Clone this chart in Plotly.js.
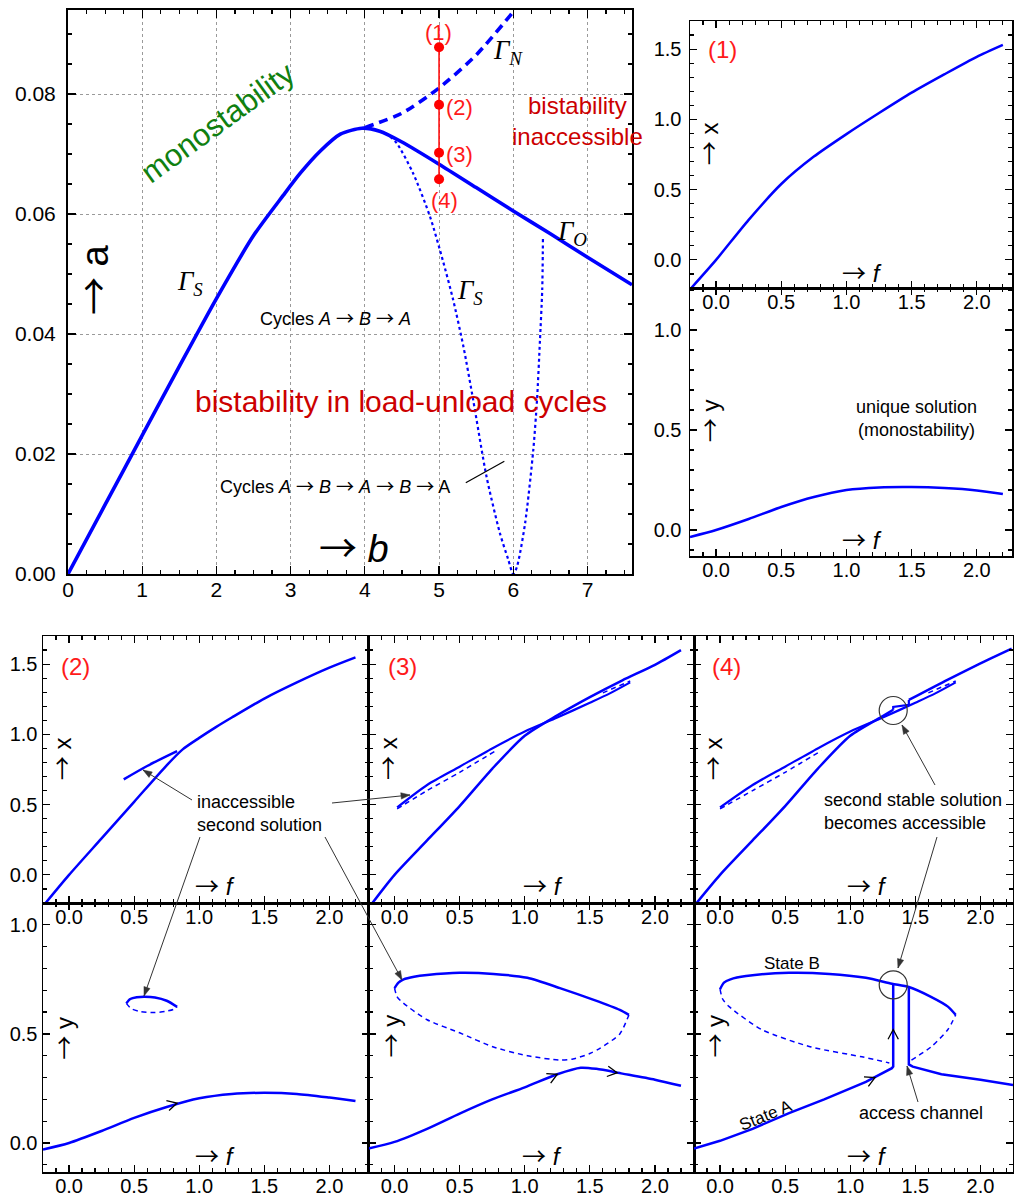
<!DOCTYPE html>
<html><head><meta charset="utf-8">
<script src="https://cdn.plot.ly/plotly-3.0.1.min.js"></script>
<style>html,body{margin:0;padding:0;background:#fff}#chart{width:1014px;height:1195px}</style>
</head><body><div id="chart"></div>
<script>
// ================= DATA =================
// Main diagram (b, a): Gamma_S rising then Gamma_O falling (one solid curve)
const gammaSO_b = [0, 0.5, 1.0, 1.5, 2.0, 2.5, 2.9, 3.13, 3.4, 3.67, 3.96, 4.2, 4.5, 5.0, 5.5, 6.0, 6.5, 7.0, 7.6];
const gammaSO_a = [0, 0.01155, 0.0231, 0.0346, 0.0459, 0.0564, 0.0631, 0.0668, 0.0705, 0.0733, 0.0743, 0.0738, 0.0720, 0.0683, 0.0644, 0.0605, 0.0567, 0.0528, 0.0482];
const gammaN_b = [4.0, 4.5, 5.0, 5.5, 6.02];
const gammaN_a = [0.0744, 0.0768, 0.0810, 0.0865, 0.0940];
const gammaS2_b = [4.2, 4.31, 4.43, 4.65, 4.88, 5.05, 5.19, 5.33, 5.46, 5.64, 5.82, 5.93, 6.0, 6.05, 6.16, 6.27, 6.32, 6.36, 6.39, 6.40];
const gammaS2_a = [0.0738, 0.0732, 0.0718, 0.0668, 0.0595, 0.0523, 0.0457, 0.0378, 0.0290, 0.0162, 0.0068, 0.0025, 0, 0.0012, 0.0085, 0.0207, 0.0290, 0.0390, 0.0473, 0.0560];
const points_b = [5, 5, 5, 5];
const points_a = [0.0878, 0.0782, 0.0702, 0.0658];
const pointLabels = ['(1)', '(2)', '(3)', '(4)'];

// Panel (1)
const p1_f = [-0.19, 0, 0.25, 0.5, 0.75, 1.0, 1.25, 1.5, 1.75, 2.0, 2.2];
const p1_x = [-0.2, 0, 0.285, 0.54, 0.735, 0.895, 1.045, 1.19, 1.32, 1.445, 1.53];
const p1y_f = [-0.2, 0, 0.25, 0.5, 0.75, 1.0, 1.25, 1.5, 1.75, 2.0, 2.2];
const p1_y = [-0.035, 0, 0.055, 0.115, 0.165, 0.2, 0.213, 0.215, 0.21, 0.198, 0.18];

// Panel (2)
const p2_f = [-0.18, 0, 0.25, 0.5, 0.75, 0.875, 1.0, 1.125, 1.25, 1.5, 1.75, 2.0, 2.2];
const p2_x = [-0.2, 0, 0.26, 0.52, 0.78, 0.895, 0.975, 1.05, 1.12, 1.255, 1.37, 1.475, 1.548];
const p2s_f = [0.42, 0.6, 0.83];
const p2s_x = [0.68, 0.775, 0.88];
const p2y_f = [-0.2, 0, 0.25, 0.5, 0.75, 1.0, 1.25, 1.5, 1.75, 2.0, 2.2];
const p2_y = [-0.03, 0, 0.055, 0.115, 0.165, 0.205, 0.225, 0.23, 0.225, 0.208, 0.192];
const p2iso_f = [0.44, 0.47, 0.52, 0.58, 0.66, 0.75, 0.83];
const p2iso_y = [0.64, 0.66, 0.668, 0.67, 0.667, 0.652, 0.624];
const p2isoU_f = [0.44, 0.48, 0.55, 0.65, 0.74, 0.8, 0.83];
const p2isoU_y = [0.64, 0.615, 0.602, 0.598, 0.603, 0.612, 0.624];

// Panel (3)
const p3_f = [-0.17, 0, 0.25, 0.5, 0.75, 1.0, 1.25, 1.5, 1.75, 2.0, 2.2];
const p3_x = [-0.2, 0.0, 0.245, 0.49, 0.755, 0.99, 1.135, 1.265, 1.385, 1.495, 1.6];
const p3s_f = [0.02, 0.25, 0.5, 0.75, 1.0, 1.25, 1.5, 1.65, 1.81];
const p3s_x = [0.48, 0.64, 0.77, 0.9, 1.02, 1.12, 1.225, 1.29, 1.37];
const p3u_f = [0.02, 0.25, 0.5, 0.78];
const p3u_x = [0.47, 0.6, 0.73, 0.885];
const p3u2_f = [1.6, 1.81];
const p3u2_x = [1.295, 1.38];
const p3y_f = [-0.2, 0, 0.25, 0.5, 0.75, 1.0, 1.25, 1.43, 1.55, 1.75, 2.0, 2.2];
const p3_y = [-0.025, 0.005, 0.065, 0.135, 0.2, 0.255, 0.315, 0.345, 0.34, 0.318, 0.29, 0.262];
const p3iso_f = [0.0, 0.03, 0.07, 0.15, 0.25, 0.5, 0.76, 1.02, 1.27, 1.53, 1.73, 1.8];
const p3iso_y = [0.71, 0.735, 0.75, 0.762, 0.77, 0.78, 0.775, 0.757, 0.71, 0.656, 0.61, 0.587];
const p3isoU_f = [0.0, 0.02, 0.07, 0.25, 0.5, 0.76, 1.02, 1.27, 1.37, 1.5, 1.58, 1.73, 1.8];
const p3isoU_y = [0.71, 0.67, 0.64, 0.565, 0.505, 0.44, 0.40, 0.38, 0.385, 0.41, 0.435, 0.5, 0.587];

// Panel (4)
const p4a_f = [-0.18, 0, 0.25, 0.5, 0.75, 1.0, 1.25, 1.33];
const p4a_x = [-0.2, 0, 0.245, 0.49, 0.755, 0.99, 1.13, 1.175];
const p4step1_f = [1.33, 1.33, 1.45, 1.45];
const p4step1_x = [1.175, 1.195, 1.21, 1.245];
const p4b_f = [1.45, 1.75, 2.0, 2.24];
const p4b_x = [1.245, 1.39, 1.505, 1.61];
const p4s_f = [0.0, 0.25, 0.5, 0.75, 1.0, 1.25, 1.5, 1.65, 1.81];
const p4s_x = [0.48, 0.64, 0.77, 0.9, 1.02, 1.12, 1.225, 1.29, 1.37];
const p4u_f = [0.0, 0.25, 0.5, 0.78];
const p4u_x = [0.47, 0.6, 0.73, 0.885];
const p4u2_f = [1.6, 1.81];
const p4u2_x = [1.295, 1.38];
const p4yA_f = [-0.2, 0, 0.25, 0.53, 0.8, 1.12, 1.32, 1.33, 1.33];
const p4yA_y = [-0.025, 0.01, 0.065, 0.137, 0.2, 0.28, 0.343, 0.35, 0.73];
const p4yB_f = [1.45, 1.45, 1.48, 1.7, 2.0, 2.25];
const p4yB_y = [0.715, 0.36, 0.35, 0.315, 0.29, 0.266];
const p4iso_f = [0, 0.03, 0.08, 0.2, 0.53, 0.84, 1.12, 1.32, 1.45, 1.62, 1.75, 1.81];
const p4iso_y = [0.705, 0.735, 0.75, 0.765, 0.78, 0.775, 0.757, 0.73, 0.715, 0.67, 0.625, 0.587];
const p4isoUL_f = [0, 0.02, 0.07, 0.32, 0.7, 1.09, 1.3];
const p4isoUL_y = [0.705, 0.66, 0.625, 0.52, 0.44, 0.395, 0.367];
const p4isoUR_f = [1.47, 1.62, 1.75, 1.81];
const p4isoUR_y = [0.38, 0.44, 0.52, 0.587];

// ================= HELPERS =================
const W = 1014, H = 1195;
const SANS = 'Liberation Sans, Arial, sans-serif';
const SERIF = 'Liberation Serif, Times New Roman, serif';
const BLUE = '#0000ff';
const AR = '<span style="font-family:Noto Sans CJK JP">→</span>';
const px = v => v / W;
const py = v => 1 - v / H;

function axis(o) {
  return Object.assign({
    showline: true, mirror: 'allticks', linecolor: '#000', linewidth: 1.5,
    ticks: 'inside', ticklen: 7, tickwidth: 1.2, tickcolor: '#000',
    showgrid: false, zeroline: false, fixedrange: true,
    tickfont: {family: SANS, size: 20, color: '#000'}
  }, o);
}
const traces = [];
function line(xs, ys, n, width, dash, shape) {
  const s = n === 1 ? '' : String(n);
  traces.push({
    x: xs, y: ys, xaxis: 'x' + s, yaxis: 'y' + s, mode: 'lines',
    line: {color: BLUE, width: width, dash: dash || 'solid', shape: shape || 'spline', smoothing: 0.7},
    hoverinfo: 'skip', showlegend: false
  });
}
const DASH = '5px,4px';
// Main
line(gammaSO_b, gammaSO_a, 1, 3.6);
line(gammaN_b, gammaN_a, 1, 3.6, '9px,6px');
line(gammaS2_b, gammaS2_a, 1, 2.2, 'dot');
traces.push({x: points_b, y: points_a, xaxis: 'x', yaxis: 'y', mode: 'lines+markers',
  line: {color: '#ff0000', width: 1.5}, marker: {color: '#ff0000', size: 10},
  hoverinfo: 'skip', showlegend: false});
// (1)
line(p1_f, p1_x, 2, 2.5);
line(p1y_f, p1_y, 3, 2.5);
// (2)
line(p2_f, p2_x, 4, 2.5);
line(p2s_f, p2s_x, 4, 2.5);
line(p2y_f, p2_y, 5, 2.5);
line(p2iso_f, p2iso_y, 5, 2.5);
line(p2isoU_f, p2isoU_y, 5, 1.5, DASH);
// (3)
line(p3_f, p3_x, 6, 2.5);
line(p3s_f, p3s_x, 6, 2.2);
line(p3u_f, p3u_x, 6, 1.5, DASH);
line(p3u2_f, p3u2_x, 6, 1.5, DASH);
line(p3y_f, p3_y, 7, 2.5);
line(p3iso_f, p3iso_y, 7, 2.5);
line(p3isoU_f, p3isoU_y, 7, 1.5, DASH);
// (4)
line(p4a_f, p4a_x, 8, 2.5);
line(p4step1_f, p4step1_x, 8, 2.2, null, 'linear');
line(p4b_f, p4b_x, 8, 2.5);
line(p4s_f, p4s_x, 8, 2.2);
line(p4u_f, p4u_x, 8, 1.5, DASH);
line(p4u2_f, p4u2_x, 8, 1.5, DASH);
line(p4yA_f, p4yA_y, 9, 2.5, null, 'linear');
line(p4yB_f, p4yB_y, 9, 2.5, null, 'linear');
line(p4iso_f, p4iso_y, 9, 2.5);
line(p4isoUL_f, p4isoUL_y, 9, 1.5, DASH);
line(p4isoUR_f, p4isoUR_y, 9, 1.5, DASH);

// ================= AXES =================
const layout = {
  width: W, height: H, margin: {l: 0, r: 0, t: 0, b: 0},
  paper_bgcolor: '#fff', plot_bgcolor: 'rgba(0,0,0,0)', showlegend: false,
  font: {family: SANS, color: '#000'}
};
layout.xaxis = axis({domain: [px(68), px(632)], range: [0, 7.6], anchor: 'y', dtick: 1, tick0: 0,
  linewidth: 2, ticklen: 8, minor: {ticks: 'inside', ticklen: 4, dtick: 0.25, tickcolor: '#000'},
  showgrid: true, gridcolor: '#9a9a9a', gridwidth: 1, griddash: '3px,3px',
  tickfont: {family: SANS, size: 21, color: '#000'}, ticklabelstandoff: -4});
layout.yaxis = axis({domain: [py(574), py(10)], range: [0, 0.094], anchor: 'x', dtick: 0.02, tick0: 0,
  tickformat: '.2f', linewidth: 2, ticklen: 8, minor: {ticks: 'inside', ticklen: 4, dtick: 0.005, tickcolor: '#000'},
  showgrid: true, gridcolor: '#9a9a9a', gridwidth: 1, griddash: '3px,3px',
  tickfont: {family: SANS, size: 21, color: '#000'}, ticklabelstandoff: 6});

const minorT = {ticks: 'inside', ticklen: 4, dtick: 0.1, tickcolor: '#000'};
function panel(n, xd, yd, xr, yr, showY, ySO) {
  const s = String(n);
  layout['xaxis' + s] = axis({domain: xd, range: xr, anchor: 'y' + s, dtick: 0.5, tick0: 0,
    tickformat: '.1f', minor: minorT, ticklabelstandoff: -5});
  layout['yaxis' + s] = axis({domain: yd, range: yr, anchor: 'x' + s, dtick: 0.5, tick0: 0,
    tickformat: '.1f', minor: minorT, showticklabels: showY, ticklabelstandoff: ySO});
}
const xRangeR = [-0.2, 2.27];
panel(2, [px(690), px(1012)], [py(288), py(21)], xRangeR, [-0.2, 1.7], true, 3);
panel(3, [px(690), px(1012)], [py(556), py(288)], xRangeR, [-0.13, 1.21], true, 3);
const c1 = [px(43), px(368.5)], c2 = [px(368.5), px(694)], c3 = [px(694), px(1013)];
const rX = [py(903), py(636)], rY = [py(1172), py(903)];
panel(4, c1, rX, [-0.2, 2.3], [-0.2, 1.7], true, 0);
panel(5, c1, rY, [-0.2, 2.3], [-0.133, 1.1], true, 0);
panel(6, c2, rX, [-0.2, 2.3], [-0.2, 1.7], false, 0);
panel(7, c2, rY, [-0.2, 2.3], [-0.133, 1.1], false, 0);
panel(8, c3, rX, [-0.2, 2.25], [-0.2, 1.7], false, 0);
panel(9, c3, rY, [-0.2, 2.25], [-0.133, 1.1], false, 0);

// ================= ANNOTATIONS =================
const ann = [];
function T(n, x, y, text, size, o) {
  const s = n === 1 ? '' : String(n);
  ann.push(Object.assign({xref: 'x' + s, yref: 'y' + s, x: x, y: y, text: text, showarrow: false,
    font: {family: SANS, size: size, color: '#000'}}, o || {}));
}
const RED = '#ff1a1a', DRED = '#cc0000';
// main
T(1, 2.02, 0.0753, 'monostability', 31, {textangle: -36, font: {family: SANS, size: 31, color: '#108010'}});
T(1, 6.86, 0.0755, 'bistability<br>inaccessible', 24, {font: {family: SANS, size: 24, color: DRED}});
T(1, 4.49, 0.0287, 'bistability in load-unload cycles', 30, {font: {family: SANS, size: 30, color: DRED}});
T(1, 3.61, 0.0428, 'Cycles <i>A</i> ' + AR + ' <i>B</i> ' + AR + ' <i>A</i>', 18);
T(1, 3.6, 0.0148, 'Cycles <i>A</i> ' + AR + ' <i>B</i> ' + AR + ' <i>A</i> ' + AR + ' <i>B</i> ' + AR + ' A', 18);
const G = {family: SERIF, size: 27, color: '#000'};
T(1, 1.64, 0.0485, '<i>Γ</i><sub><i>S</i></sub>', 27, {font: G});
T(1, 5.42, 0.047, '<i>Γ</i><sub><i>S</i></sub>', 27, {font: G});
T(1, 5.93, 0.087, '<i>Γ</i><sub><i>N</i></sub>', 27, {font: G});
T(1, 6.79, 0.0568, '<i>Γ</i><sub><i>O</i></sub>', 27, {font: G});
T(1, 3.855, 0.0048, AR + ' <i>b</i>', 38);
T(1, 0.31, 0.049, AR + ' a', 38, {textangle: -90});
const ptPos = [[4.99, 0.0903], [5.28, 0.0777], [5.28, 0.0700], [5.07, 0.0623]];
pointLabels.forEach((t, i) => T(1, ptPos[i][0], ptPos[i][1], t, 22, {font: {family: SANS, size: 22, color: RED}}));

// panel labels
const RF = {family: SANS, size: 24, color: RED};
T(2, 0.05, 1.5, '(1)', 24, {font: RF});
T(4, 0.05, 1.48, '(2)', 24, {font: RF});
T(6, 0.06, 1.48, '(3)', 24, {font: RF});
T(8, 0.05, 1.48, '(4)', 24, {font: RF});
[[2, -0.07, 0.83], [4, -0.07, 0.83], [6, -0.06, 0.83], [8, -0.07, 0.83]].forEach(a => T(a[0], a[1], a[2], AR + ' x', 24, {textangle: -90}));
[[2, 1.12, -0.085], [4, 1.12, -0.07], [6, 1.14, -0.07], [8, 1.13, -0.07]].forEach(a => T(a[0], a[1], a[2], AR + ' <i>f</i>', 24));
[[3, -0.06, 0.545], [5, -0.05, 0.48], [7, -0.04, 0.49], [9, -0.05, 0.49]].forEach(a => T(a[0], a[1], a[2], AR + ' y', 24, {textangle: -90}));
[[3, 1.12, -0.04], [5, 1.12, -0.055], [7, 1.13, -0.055], [9, 1.13, -0.055]].forEach(a => T(a[0], a[1], a[2], AR + ' <i>f</i>', 24));
T(3, 1.54, 0.56, 'unique solution<br>(monostability)', 18);
T(4, 0.97, 0.434, 'inaccessible<br>second solution', 18, {xanchor: 'left', align: 'left'});
T(8, 0.78, 0.45, 'second stable solution<br>becomes accessible', 18, {xanchor: 'left', align: 'left'});
T(9, 0.55, 0.825, 'State B', 17);
T(9, 0.35, 0.128, 'State A', 17, {textangle: -22});
T(9, 1.54, 0.137, 'access channel', 18);
layout.annotations = ann;

// ================= SHAPES =================
const shapes = [];
shapes.push({type: 'line', xref: 'x', yref: 'y', x0: 5.36, y0: 0.0152, x1: 5.88, y1: 0.0188,
  line: {color: '#000', width: 1.2}});
function circ(n, x, y, r) {
  const s = String(n);
  shapes.push({type: 'circle', xref: 'x' + s, yref: 'y' + s, xsizemode: 'pixel', ysizemode: 'pixel',
    xanchor: x, yanchor: y, x0: -r, x1: r, y0: -r, y1: r, line: {color: '#333', width: 1.2}});
}
circ(8, 1.33, 1.17, 14);
circ(9, 1.33, 0.725, 14);
function vArrow(n, x, y, deg) {
  const s = String(n), L = 11, h = 28 * Math.PI / 180, t = deg * Math.PI / 180;
  const p1 = [L * Math.cos(t + Math.PI - h), L * Math.sin(t + Math.PI - h)];
  const p2 = [L * Math.cos(t + Math.PI + h), L * Math.sin(t + Math.PI + h)];
  shapes.push({type: 'path', xref: 'x' + s, yref: 'y' + s, xsizemode: 'pixel', ysizemode: 'pixel',
    xanchor: x, yanchor: y,
    path: 'M' + p1[0].toFixed(2) + ',' + p1[1].toFixed(2) + ' L0,0 L' + p2[0].toFixed(2) + ',' + p2[1].toFixed(2),
    line: {color: '#000', width: 1.3}});
}
vArrow(5, 0.83, 0.183, 15);
vArrow(7, 1.25, 0.315, 25);
vArrow(7, 1.71, 0.322, -8);
vArrow(9, 1.19, 0.30, 25);
vArrow(9, 1.33, 0.52, 90);

// pointer arrows in page pixels: tail (tx,ty) -> head (hx,hy)
function pointer(tx, ty, hx, hy) {
  shapes.push({type: 'line', xref: 'paper', yref: 'paper', x0: px(tx), y0: py(ty), x1: px(hx), y1: py(hy),
    line: {color: '#333', width: 1}});
  const dx = hx - tx, dy = hy - ty, L = Math.hypot(dx, dy), ux = dx / L, uy = dy / L;
  const bx = hx - ux * 9, by = hy - uy * 9, w = 3.2;
  const pts = [[hx, hy], [bx - uy * w, by + ux * w], [bx + uy * w, by - ux * w]];
  shapes.push({type: 'path', xref: 'paper', yref: 'paper',
    path: 'M' + pts.map(p => px(p[0]).toFixed(5) + ',' + py(p[1]).toFixed(5)).join(' L') + ' Z',
    fillcolor: '#333', line: {color: '#333', width: 0.5}});
}
pointer(192, 800, 143, 770);
pointer(332, 803, 410, 795);
pointer(200, 837, 144, 996);
pointer(325, 837, 402, 980);
pointer(935, 785, 902, 725);
pointer(937, 837, 898, 968);
pointer(918, 1102, 907, 1066);
layout.shapes = shapes;

Plotly.newPlot('chart', traces, layout, {staticPlot: true, displayModeBar: false});
</script>
</body></html>
